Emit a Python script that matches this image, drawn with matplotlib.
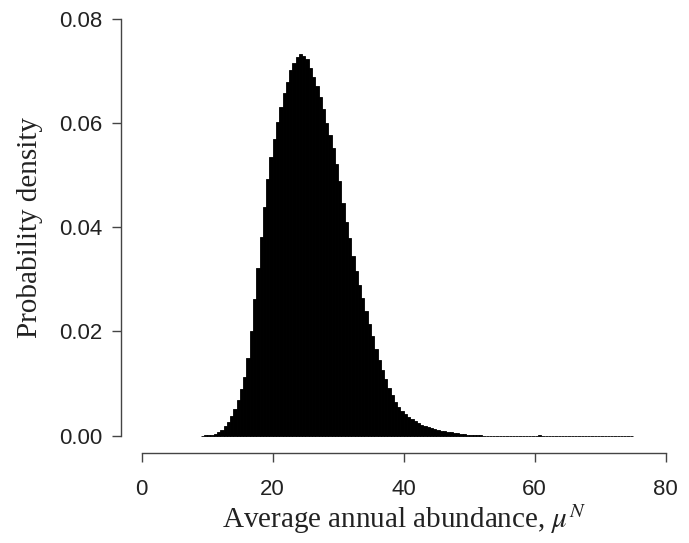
import numpy as np
import matplotlib
matplotlib.use("Agg")
import matplotlib.pyplot as plt

# histogram breaks (left edges, width 0.5) and density per bin
BIN_WIDTH = 0.5
bin_left = np.arange(9.0, 75.0, BIN_WIDTH)

density = [
    0.0000, 0.0001, 0.0001, 0.0002, 0.0003, 0.0006, 0.0011, 0.0018,   # 9 - 12.5
    0.0026, 0.0037, 0.0051, 0.0068, 0.0089, 0.0113, 0.0150, 0.0200,   # 13 - 16.5
    0.0262, 0.0322, 0.0382, 0.0440, 0.0494, 0.0536, 0.0570, 0.0603,   # 17 - 20.5
    0.0632, 0.0658, 0.0680, 0.0702, 0.0716, 0.0727, 0.0734, 0.0729,   # 21 - 24.5
    0.0723, 0.0706, 0.0690, 0.0671, 0.0651, 0.0628, 0.0600, 0.0578,   # 25 - 28.5
    0.0553, 0.0521, 0.0489, 0.0447, 0.0411, 0.0379, 0.0346, 0.0316,   # 29 - 32.5
    0.0290, 0.0265, 0.0240, 0.0215, 0.0191, 0.0167, 0.0146, 0.0126,   # 33 - 36.5
    0.0108, 0.0091, 0.0077, 0.0065, 0.0055, 0.0047, 0.0041, 0.0036,   # 37 - 40.5
    0.0032, 0.0028, 0.0024, 0.0021, 0.0018, 0.0016, 0.0014, 0.0012,   # 41 - 44.5
    0.0010, 0.0009, 0.0008, 0.0007, 0.0006, 0.0005, 0.0004, 0.0003,   # 45 - 48.5
    0.0003, 0.0002, 0.0002, 0.0001, 0.0001, 0.0001,                   # 49 - 51.5
    0.0, 0.0, 0.0, 0.0, 0.0, 0.0, 0.0, 0.0, 0.0, 0.0, 0.0, 0.0,       # 52 - 57.5
    0.0, 0.0, 0.0, 0.0, 0.0, 0.0002,                                  # 58 - 60.5
    0.0, 0.0, 0.0, 0.0, 0.0, 0.0, 0.0, 0.0, 0.0, 0.0, 0.0, 0.0, 0.0, 0.0,  # 61 - 67.5
    0.0, 0.0, 0.0, 0.0, 0.0, 0.0, 0.0, 0.0, 0.0, 0.0, 0.0, 0.0, 0.0, 0.0,  # 68 - 74.5
]

x_ticks = [0, 20, 40, 60, 80]
y_ticks = [0.00, 0.02, 0.04, 0.06, 0.08]
y_tick_labels = ["0.00", "0.02", "0.04", "0.06", "0.08"]

plt.rcParams["mathtext.fontset"] = "stix"

fig = plt.figure(figsize=(6.89, 5.43), dpi=100)
ax = fig.add_axes([0.1752, 0.1657, 0.8215, 0.8313])

# R-style histogram: filled black bars, empty bins leave a line on the baseline
ax.bar(bin_left, density, width=BIN_WIDTH, align="edge",
       color="black", edgecolor="black", linewidth=0.6)

ax.set_xlim(-3.2, 83.2)
ax.set_ylim(-0.00336, 0.0834)

# detached axes like base R graphics
for side in ["top", "right"]:
    ax.spines[side].set_visible(False)
ax.spines["left"].set_bounds(0, 0.08)
ax.spines["bottom"].set_bounds(0, 80)
for side in ["left", "bottom"]:
    ax.spines[side].set_color("#444444")
    ax.spines[side].set_linewidth(1.0)

ax.set_xticks(x_ticks)
ax.set_yticks(y_ticks)
ax.set_yticklabels(y_tick_labels)
ax.tick_params(axis="both", direction="out", length=6.5, width=1.0,
               color="#444444", labelcolor="#222222",
               labelfontfamily="Liberation Sans", labelsize=16)
ax.tick_params(axis="y", pad=7)
ax.tick_params(axis="x", pad=12)

ax.set_xlabel("Average annual abundance, $\\mu^N$", family="Liberation Serif",
              fontsize=21, color="#222222", labelpad=2)
ax.set_ylabel("Probability density", family="Liberation Serif",
              fontsize=21, color="#222222", labelpad=11)

fig.savefig("out.png", dpi=100)
